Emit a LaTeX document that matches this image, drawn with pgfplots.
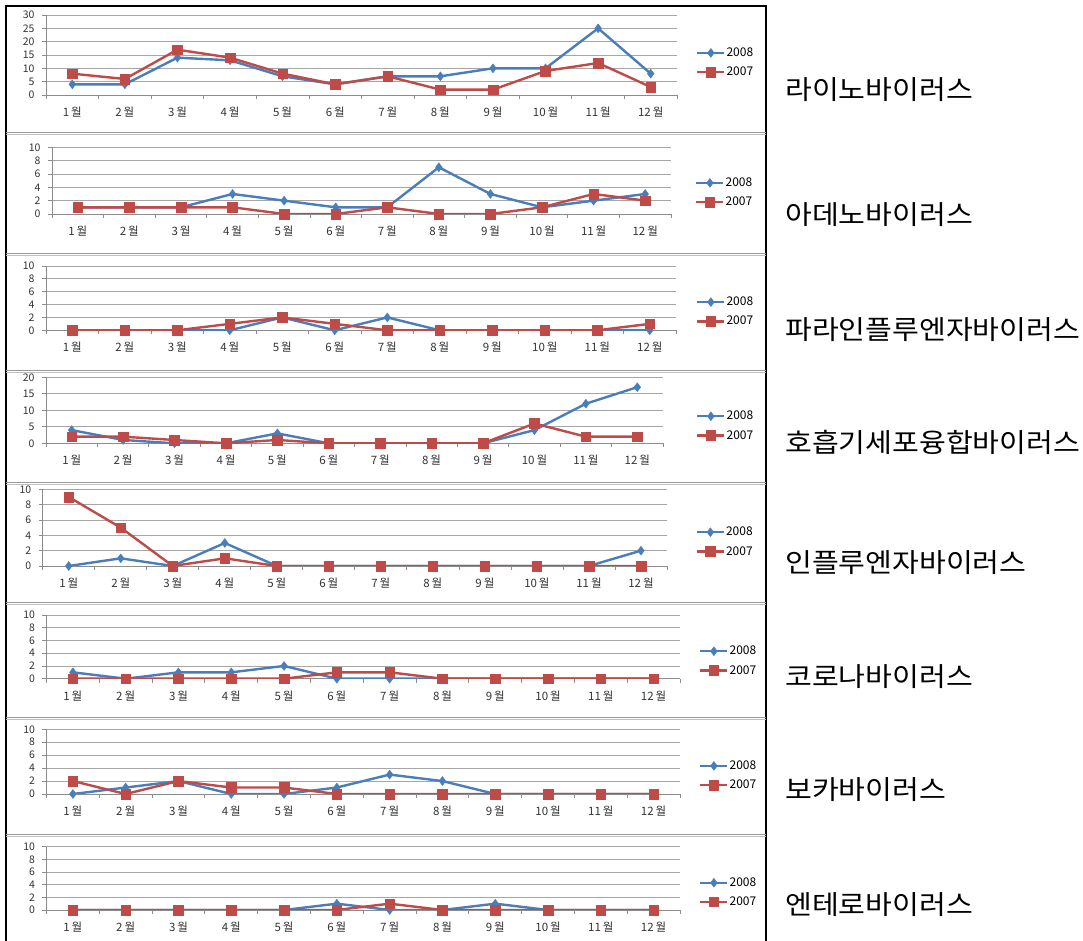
\documentclass[border=0pt]{standalone}
\usepackage{pgfplots}
\pgfplotsset{compat=1.18}
\usepackage{fontspec}
\setmainfont{Noto Sans CJK KR}
\newfontfamily\kr{Noto Sans CJK KR}
\definecolor{sblue}{HTML}{4A7EBB}
\definecolor{sred}{HTML}{BE4B48}
\definecolor{gridgray}{HTML}{A6A6A6}
\definecolor{axisgray}{HTML}{8C8C8C}
\pgfplotsset{
 panel/.style={
  scale only axis, anchor=south west,
  xmin=0.5, xmax=12.5, ymin=0,
  axis x line*=bottom, axis y line*=left,
  axis line style={draw=axisgray, line width=0.8pt},
  xtick={1,...,12},
  xticklabels={1\,월,2\,월,3\,월,4\,월,5\,월,6\,월,7\,월,8\,월,9\,월,10\,월,11\,월,12\,월},
  minor xtick={0.5,1.5,...,12.5},
  every major x tick/.append style={draw=none},
  major tick length=4pt, minor tick length=4pt,
  tick align=outside,
  tick style={draw=axisgray, line width=0.8pt},
  ymajorgrids, grid style={draw=gridgray, line width=0.8pt},
  /pgf/number format/assume math mode=true,
  ticklabel style={font=\fontsize{10.5}{11}\selectfont, text=black!80},
  xticklabel style={yshift=-4.5pt, font=\fontsize{11.5}{12}\selectfont},
  yticklabel style={xshift=-4pt},
  legend cell align=left,
  legend style={draw=none, fill=none, inner sep=0pt, anchor=west,
    font=\fontsize{12}{12}\selectfont, row sep=7pt,
    nodes={inner sep=1pt}},
  legend image code/.code={\draw[mark repeat=2,mark phase=2,#1] plot coordinates {(0pt,0pt) (13.5pt,0pt) (27pt,0pt)};},
 },
 s08/.style={color=sblue, line width=2.4pt, mark=diamond*, mark size=4.4pt, mark options={fill=sblue, draw=sblue, line width=0.5pt}},
 s07/.style={color=sred, line width=2.4pt, mark=square*, mark size=4.8pt, mark options={fill=sred, draw=sred, line width=0.5pt}},
}
\begin{document}
\begin{tikzpicture}
\useasboundingbox (0pt,0pt) rectangle (1083pt,941pt);
% frame
\draw[black, line width=1.6pt] (6pt,0pt) -- (6pt,935pt) -- (766pt,935pt) -- (766pt,0pt);
\foreach \yy in {809,688,571,459,339,224,107}{
  \draw[gray!80, line width=0.9pt] (6pt,\yy pt) -- (766pt,\yy pt);
  \draw[gray!50, line width=0.9pt] (6pt,\yy pt-2.5pt) -- (766pt,\yy pt-2.5pt);
}
% labels
\begin{scope}[every node/.style={anchor=west, inner sep=0pt, xscale=1.1, font=\kr\fontsize{26.5}{26.5}\selectfont}]
\node at (785pt,851pt) {라이노바이러스};
\node at (785pt,726pt) {아데노바이러스};
\node at (785pt,611pt) {파라인플루엔자바이러스};
\node at (785pt,499pt) {호흡기세포융합바이러스};
\node at (785pt,378pt) {인플루엔자바이러스};
\node at (785pt,264pt) {코로나바이러스};
\node at (785pt,151pt) {보카바이러스};
\node at (785pt,36pt) {엔테로바이러스};
\end{scope}
% P1
\begin{axis}[panel, at={(46pt,846pt)}, width=631pt, height=80pt, ymax=30, ytick={0,5,...,30},
  legend style={at={(axis description cs:1.030,0.406)}}]
\addplot[s08] coordinates {(1,4)(2,4)(3,14)(4,13)(5,7)(6,4)(7,7)(8,7)(9,10)(10,10)(11,25)(12,8)};
\addplot[s07] coordinates {(1,8)(2,6)(3,17)(4,14)(5,8)(6,4)(7,7)(8,2)(9,2)(10,9)(11,12)(12,3)};
\legend{2008,2007}
\end{axis}
% P2
\begin{axis}[panel, at={(52pt,727pt)}, width=619pt, height=66.7pt, ymax=10, ytick={0,2,...,10},
  legend style={at={(axis description cs:1.0388,0.322)}}]
\addplot[s08] coordinates {(1,1)(2,1)(3,1)(4,3)(5,2)(6,1)(7,1)(8,7)(9,3)(10,1)(11,2)(12,3)};
\addplot[s07] coordinates {(1,1)(2,1)(3,1)(4,1)(5,0)(6,0)(7,1)(8,0)(9,0)(10,1)(11,3)(12,2)};
\legend{2008,2007}
\end{axis}
% P3
\begin{axis}[panel, at={(46pt,610.7pt)}, width=630pt, height=64.3pt, ymax=10, ytick={0,2,...,10},
  legend style={at={(axis description cs:1.0317,0.289)}}]
\addplot[s08] coordinates {(1,0)(2,0)(3,0)(4,0)(5,2)(6,0)(7,2)(8,0)(9,0)(10,0)(11,0)(12,0)};
\addplot[s07] coordinates {(1,0)(2,0)(3,0)(4,1)(5,2)(6,1)(7,0)(8,0)(9,0)(10,0)(11,0)(12,1)};
\legend{2008,2007}
\end{axis}
% P4
\begin{axis}[panel, at={(46pt,497.7pt)}, width=617pt, height=66pt, ymax=20, ytick={0,5,...,20},
  legend style={at={(axis description cs:1.0535,0.264)}}]
\addplot[s08] coordinates {(1,4)(2,1)(3,0)(4,0)(5,3)(6,0)(7,0)(8,0)(9,0)(10,4)(11,12)(12,17)};
\addplot[s07] coordinates {(1,2)(2,2)(3,1)(4,0)(5,1)(6,0)(7,0)(8,0)(9,0)(10,6)(11,2)(12,2)};
\legend{2008,2007}
\end{axis}
% P5
\begin{axis}[panel, at={(42.7pt,375pt)}, width=624.3pt, height=76.7pt, ymax=10, ytick={0,2,...,10},
  legend style={at={(axis description cs:1.0456,0.315)}}]
\addplot[s08] coordinates {(1,0)(2,1)(3,0)(4,3)(5,0)(6,0)(7,0)(8,0)(9,0)(10,0)(11,0)(12,2)};
\addplot[s07] coordinates {(1,9)(2,5)(3,0)(4,1)(5,0)(6,0)(7,0)(8,0)(9,0)(10,0)(11,0)(12,0)};
\legend{2008,2007}
\end{axis}
% P6
\begin{axis}[panel, at={(46.5pt,262.3pt)}, width=633.5pt, height=63.7pt, ymax=10, ytick={0,2,...,10},
  legend style={at={(axis description cs:1.030,0.280)}}]
\addplot[s08] coordinates {(1,1)(2,0)(3,1)(4,1)(5,2)(6,0)(7,0)(8,0)(9,0)(10,0)(11,0)(12,0)};
\addplot[s07] coordinates {(1,0)(2,0)(3,0)(4,0)(5,0)(6,1)(7,1)(8,0)(9,0)(10,0)(11,0)(12,0)};
\legend{2008,2007}
\end{axis}
% P7
\begin{axis}[panel, at={(46.5pt,147pt)}, width=633.5pt, height=64.7pt, ymax=10, ytick={0,2,...,10},
  legend style={at={(axis description cs:1.030,0.286)}}]
\addplot[s08] coordinates {(1,0)(2,1)(3,2)(4,0)(5,0)(6,1)(7,3)(8,2)(9,0)(10,0)(11,0)(12,0)};
\addplot[s07] coordinates {(1,2)(2,0)(3,2)(4,1)(5,1)(6,0)(7,0)(8,0)(9,0)(10,0)(11,0)(12,0)};
\legend{2008,2007}
\end{axis}
% P8
\begin{axis}[panel, at={(46.5pt,31pt)}, width=633.5pt, height=63.3pt, ymax=10, ytick={0,2,...,10},
  legend style={at={(axis description cs:1.030,0.279)}}]
\addplot[s08] coordinates {(1,0)(2,0)(3,0)(4,0)(5,0)(6,1)(7,0)(8,0)(9,1)(10,0)(11,0)(12,0)};
\addplot[s07] coordinates {(1,0)(2,0)(3,0)(4,0)(5,0)(6,0)(7,1)(8,0)(9,0)(10,0)(11,0)(12,0)};
\legend{2008,2007}
\end{axis}
\end{tikzpicture}
\end{document}
